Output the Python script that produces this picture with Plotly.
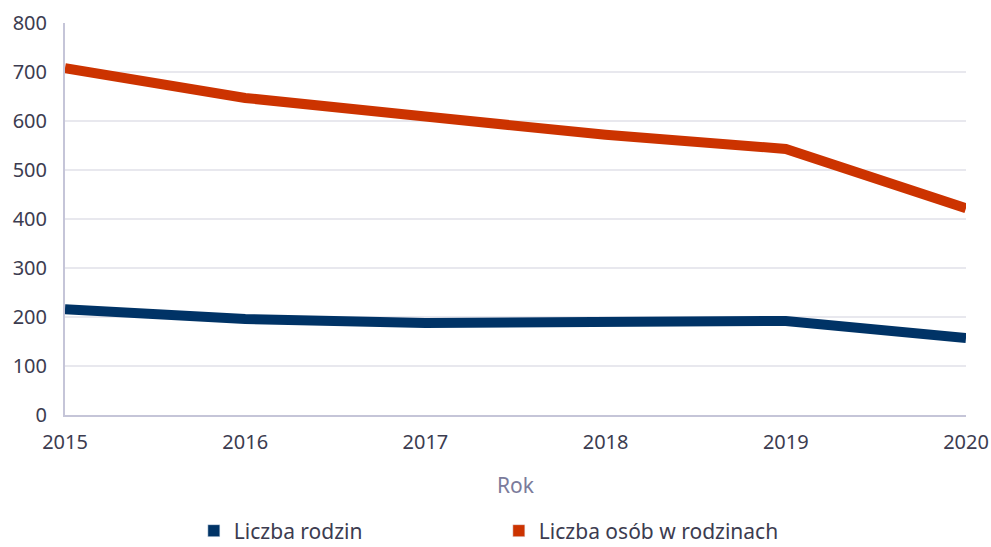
import plotly.graph_objects as go

years = [2015, 2016, 2017, 2018, 2019, 2020]
rodziny = [216, 196, 188, 188, 192, 157]
osoby = [708, 647, 609, 572, 543, 422]
names = ["Liczba rodzin", "Liczba osób w rodzinach"]
colors = ["#003366", "#cc3300"]
y_ticks = [0, 100, 200, 300, 400, 500, 600, 700, 800]

fig = go.Figure()
for vals, name, col in zip([rodziny, osoby], names, colors):
    fig.add_trace(go.Scatter(x=years, y=vals, mode="lines", name=name,
                             line=dict(color=col, width=10), showlegend=False))
    fig.add_trace(go.Bar(x=[None], y=[None], name=name, marker_color=col,
                         showlegend=True))

font_fam = "Noto Sans, Open Sans, sans-serif"
fig.update_layout(
    width=991, height=547,
    margin=dict(l=65, r=25, t=23, b=132, autoexpand=False),
    plot_bgcolor="white", paper_bgcolor="white",
    font=dict(family=font_fam, size=20, color="#3c3c50"),
    showlegend=True,
    legend=dict(orientation="h", x=0.143, xanchor="left", y=-0.296, yanchor="middle",
                entrywidth=260, font=dict(size=21, color="#3c3c50")),
    xaxis=dict(range=[2015, 2020], tickvals=years, showgrid=False,
               showline=True, linecolor="#c5c5d8", linewidth=2,
               ticks="", ticklabelstandoff=8, automargin=False,
               title=dict(text="Rok", font=dict(size=21, color="#7b7b9b"), standoff=24),
               zeroline=False),
    yaxis=dict(range=[0, 800], tickvals=y_ticks, showgrid=True, gridcolor="#e8e8ee",
               gridwidth=1.5, showline=True, linecolor="#c5c5d8", linewidth=2,
               ticks="", ticklabelstandoff=12, zeroline=False, automargin=False),
)
fig.write_html("out.html", config={"displayModeBar": False},
               post_script="document.body.style.margin='0';document.body.style.overflow='hidden';")
